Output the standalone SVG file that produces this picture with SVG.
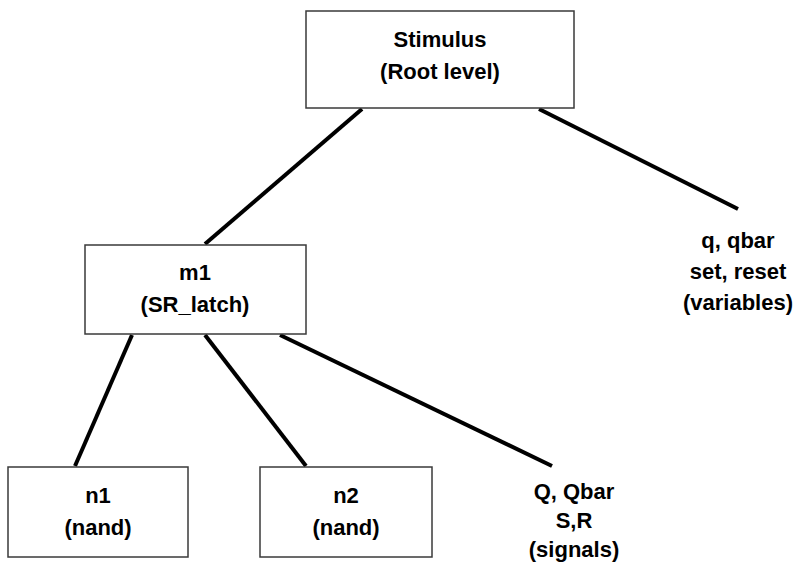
<svg xmlns="http://www.w3.org/2000/svg" width="800" height="564" viewBox="0 0 800 564">
<style>
.box{fill:#fff;stroke:#3a3a3a;stroke-width:1.5}
.t{font-family:"Liberation Sans",Arial,sans-serif;font-weight:bold;font-size:22px;fill:#000;text-anchor:middle}
.c{stroke:#000;stroke-width:4;stroke-linecap:butt;fill:none}
</style>
<rect width="800" height="564" fill="#fff"/>
<g id="connectors">
<line class="c" x1="362" y1="109" x2="205" y2="244"/>
<line class="c" x1="539" y1="109" x2="738" y2="209"/>
<line class="c" x1="132" y1="335" x2="75" y2="466"/>
<line class="c" x1="205" y1="335" x2="306" y2="466"/>
<line class="c" x1="280" y1="335" x2="552" y2="466"/>
</g>
<g id="root">
<rect class="box" x="306" y="11" width="268" height="97"/>
<text class="t" x="440" y="47">Stimulus</text>
<text class="t" x="440" y="79">(Root level)</text>
</g>
<g id="m1">
<rect class="box" x="85" y="245" width="221" height="89"/>
<text class="t" x="195" y="280">m1</text>
<text class="t" x="195" y="312">(SR_latch)</text>
</g>
<g id="n1">
<rect class="box" x="8" y="467" width="180" height="90"/>
<text class="t" x="98" y="503">n1</text>
<text class="t" x="98" y="535">(nand)</text>
</g>
<g id="n2">
<rect class="box" x="260" y="467" width="172" height="90"/>
<text class="t" x="346" y="503">n2</text>
<text class="t" x="346" y="535">(nand)</text>
</g>
<g id="variables">
<text class="t" x="738" y="248">q, qbar</text>
<text class="t" x="738" y="279">set, reset</text>
<text class="t" x="738" y="310">(variables)</text>
</g>
<g id="signals">
<text class="t" x="574" y="499">Q, Qbar</text>
<text class="t" x="574" y="528">S,R</text>
<text class="t" x="574" y="557">(signals)</text>
</g>
</svg>
